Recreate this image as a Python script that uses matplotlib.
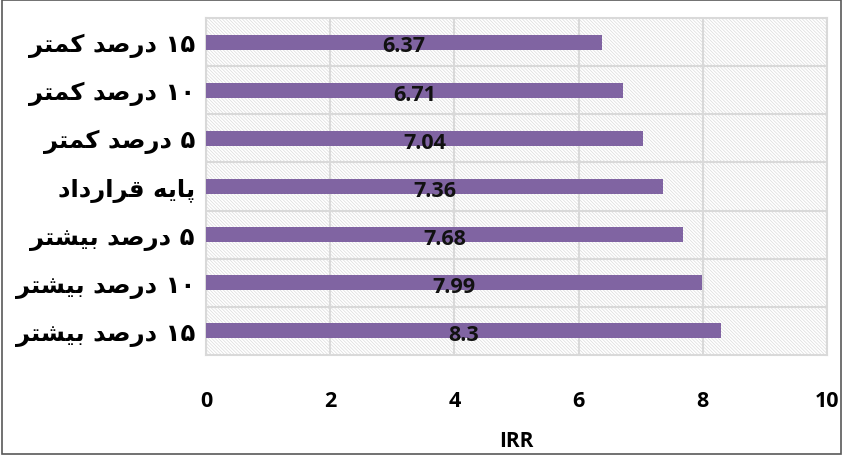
import matplotlib
matplotlib.use("Agg")
import matplotlib.pyplot as plt
from matplotlib.patches import Rectangle

# scenario labels (logical Persian order) and IRR values, top to bottom
numbers = ["۱۵", "۱۰", "۵", "", "۵", "۱۰", "۱۵"]
phrases = ["درصد کمتر", "درصد کمتر", "درصد کمتر", "پایه قرارداد",
           "درصد بیشتر", "درصد بیشتر", "درصد بیشتر"]
irr = [6.37, 6.71, 7.04, 7.36, 7.68, 7.99, 8.3]
value_labels = ["6.37", "6.71", "7.04", "7.36", "7.68", "7.99", "8.3"]
xticks = [0, 2, 4, 6, 8, 10]

# minimal Arabic shaping: letter -> (isolated, final, initial, medial)
FORMS = {
    "ا": ("\uFE8D", "\uFE8E", None, None),
    "ب": ("\uFE8F", "\uFE90", "\uFE91", "\uFE92"),
    "ت": ("\uFE95", "\uFE96", "\uFE97", "\uFE98"),
    "د": ("\uFEA9", "\uFEAA", None, None),
    "ر": ("\uFEAD", "\uFEAE", None, None),
    "ش": ("\uFEB5", "\uFEB6", "\uFEB7", "\uFEB8"),
    "ص": ("\uFEB9", "\uFEBA", "\uFEBB", "\uFEBC"),
    "ق": ("\uFED5", "\uFED6", "\uFED7", "\uFED8"),
    "م": ("\uFEE1", "\uFEE2", "\uFEE3", "\uFEE4"),
    "ه": ("\uFEE9", "\uFEEA", "\uFEEB", "\uFEEC"),
    "پ": ("\uFB56", "\uFB57", "\uFB58", "\uFB59"),
    "ک": ("\uFB8E", "\uFB8F", "\uFB90", "\uFB91"),
    "ی": ("\uFBFC", "\uFBFD", "\uFBFE", "\uFBFF"),
}

def joins_left(ch):
    return ch in FORMS and FORMS[ch][2] is not None

def shape_word(w):
    out = []
    for i, ch in enumerate(w):
        prev = w[i - 1] if i > 0 else None
        nxt = w[i + 1] if i + 1 < len(w) else None
        jr = prev is not None and joins_left(prev)
        jl = nxt is not None and nxt in FORMS and joins_left(ch)
        iso, fin, ini, med = FORMS[ch]
        if jr and jl:
            out.append(med)
        elif jr:
            out.append(fin)
        elif jl:
            out.append(ini)
        else:
            out.append(iso)
    return "".join(reversed(out))

def visual(num, phrase):
    # right-to-left: first word goes to the right end
    parts = ([num] if num else []) + [shape_word(w) for w in phrase.split()]
    return " ".join(reversed(parts))

labels = [visual(n, p) for n, p in zip(numbers, phrases)]

plt.rcParams["font.family"] = ["DejaVu Sans"]
plt.rcParams["hatch.linewidth"] = 0.5
fig = plt.figure(figsize=(8.43, 4.56), dpi=100)
ax = fig.add_axes([0.2444, 0.2193, 0.7366, 0.739])

ypos = list(range(len(irr)))
ax.add_patch(Rectangle((0, 0), 1, 1, transform=ax.transAxes, facecolor="white",
                       edgecolor="#dcdcdc", hatch="\\" * 10, lw=0, zorder=0))
ax.barh(ypos, irr, height=0.31, color="#8064A2", zorder=3)
for y, v, t in zip(ypos, irr, value_labels):
    ax.text(v / 2, y + 0.08, t, ha="center", va="center", fontsize=15.5,
            fontweight="bold", family="Open Sans", color="#111111", zorder=4)

ax.set_xlim(0, 10)
ax.set_ylim(len(irr) - 0.5, -0.5)
ax.set_xticks(xticks)
ax.set_xticklabels([str(t) for t in xticks], fontsize=15.5, fontweight="bold", family="Open Sans")
ax.set_yticks(ypos)
ax.set_yticklabels(labels, fontsize=17.5, fontweight="bold")
ax.set_yticks([y + 0.5 for y in ypos[:-1]], minor=True)
ax.tick_params(axis="both", length=0, which="both")
ax.tick_params(axis="x", pad=25)
ax.tick_params(axis="y", pad=8)
ax.grid(axis="x", color="#d9d9d9", lw=1.5, zorder=1)
ax.grid(axis="y", which="minor", color="#d9d9d9", lw=1.5, zorder=1)
ax.set_axisbelow(True)
for s in ax.spines.values():
    s.set_color("#d9d9d9")
    s.set_linewidth(1.5)
ax.set_xlabel("IRR", fontsize=15, fontweight="bold", family="Open Sans", labelpad=14)

fig.patches.append(Rectangle((0.002, 0.002), 0.996, 0.996, transform=fig.transFigure,
                             fill=False, edgecolor="#595959", lw=1.2))
fig.savefig("out.png", dpi=100)
